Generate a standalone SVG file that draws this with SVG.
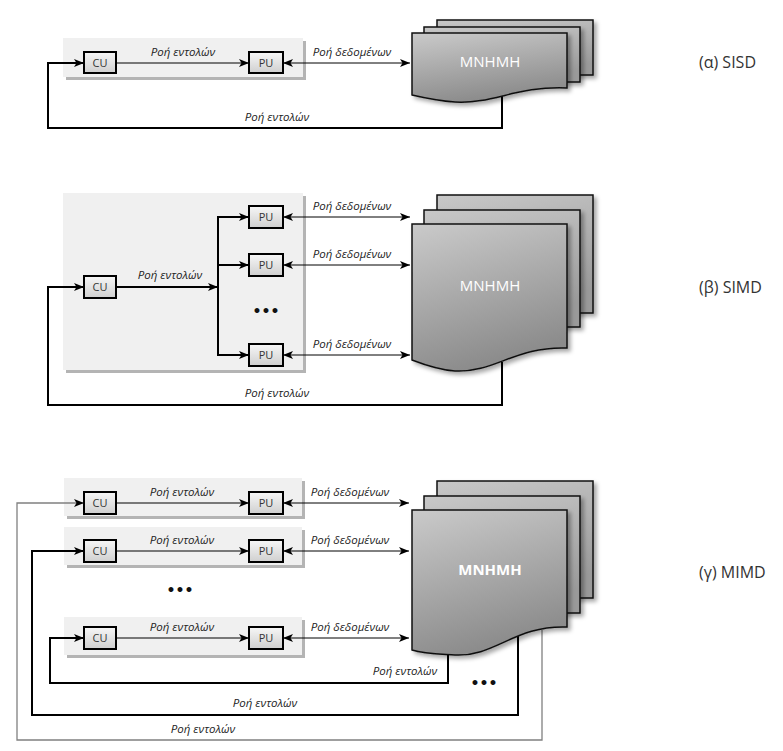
<svg xmlns="http://www.w3.org/2000/svg" width="783" height="751" viewBox="0 0 783 751">
<defs>
  <linearGradient id="boxg" x1="0" y1="0" x2="0" y2="1">
    <stop offset="0" stop-color="#f7f7f7"/>
    <stop offset="1" stop-color="#cfcfcf"/>
  </linearGradient>
  <linearGradient id="memg" x1="0" y1="0" x2="0.3" y2="1">
    <stop offset="0" stop-color="#cacaca"/>
    <stop offset="1" stop-color="#8c8c8c"/>
  </linearGradient>
  <linearGradient id="backg" x1="0" y1="0" x2="0.3" y2="1">
    <stop offset="0" stop-color="#c8c8c8"/>
    <stop offset="1" stop-color="#9a9a9a"/>
  </linearGradient>
  <filter id="sh" x="-10%" y="-10%" width="130%" height="130%">
    <feDropShadow dx="3" dy="3" stdDeviation="2" flood-color="#000" flood-opacity="0.35"/>
  </filter>
  <marker id="ah" viewBox="0 0 10 8" refX="10" refY="4" markerWidth="10" markerHeight="8" markerUnits="userSpaceOnUse" orient="auto-start-reverse">
    <path d="M0,0 L10,4 L0,8 L2.5,4 Z" fill="#000"/>
  </marker>
</defs>
<style>
  .panel{fill:#f0f0f0}
  .pshadow{fill:#b4b4b4}
  .box{fill:url(#boxg);stroke:#000;stroke-width:2}
  .btxt{font-family:"Open Sans","DejaVu Sans",sans-serif;font-size:11px;fill:#333;text-anchor:middle}
  .lbl{font-family:"Open Sans","DejaVu Sans",sans-serif;font-size:11.5px;font-style:italic;fill:#222;text-anchor:middle}
  .cap{font-family:"Open Sans","DejaVu Sans",sans-serif;font-size:16px;fill:#333}
  .dots{font-family:"DejaVu Sans",sans-serif;font-size:14px;font-weight:bold;fill:#111;text-anchor:middle}
  .thin{fill:none;stroke:#000;stroke-width:1}
  .thick{fill:none;stroke:#000;stroke-width:2}
  .gray{fill:none;stroke:#808080;stroke-width:1.3}
  .sheet{fill:url(#memg);stroke:#111;stroke-width:1.5;filter:url(#sh)}
  .back{fill:url(#backg);stroke:#111;stroke-width:1.5;filter:url(#sh)}
  .mtxt{font-family:"Open Sans","DejaVu Sans",sans-serif;font-size:15px;fill:#fff;text-anchor:middle}
</style>

<!-- panels (background) -->
<g id="panel-a">
  <rect class="pshadow" x="66" y="41" width="240" height="39"/>
  <rect class="panel" x="63" y="38" width="240" height="39"/>
</g>
<g id="panel-b">
  <rect class="pshadow" x="66" y="196" width="240" height="177"/>
  <rect class="panel" x="63" y="193" width="240" height="177"/>
</g>
<g id="panel-c1">
  <rect class="pshadow" x="67" y="481" width="238" height="38"/>
  <rect class="panel" x="64" y="478" width="238" height="38"/>
</g>
<g id="panel-c2">
  <rect class="pshadow" x="67" y="530" width="238" height="38"/>
  <rect class="panel" x="64" y="527" width="238" height="38"/>
</g>
<g id="panel-c3">
  <rect class="pshadow" x="67" y="620" width="238" height="38"/>
  <rect class="panel" x="64" y="617" width="238" height="38"/>
</g>

<g id="connectors">
  <!-- (a) -->
  <path class="thin" d="M116,63 H249" marker-end="url(#ah)"/>
  <path class="thin" d="M283,63 H410" marker-start="url(#ah)" marker-end="url(#ah)"/>
  <path class="thick" d="M502,90 V128 H48 V63 H84" marker-end="url(#ah)"/>
  <!-- (b) -->
  <path class="thick" d="M116,287 H218" marker-end="url(#ah)"/>
  <path class="thick" d="M218,216 V356"/>
  <path class="thick" d="M217,217 H249" marker-end="url(#ah)"/>
  <path class="thick" d="M217,265 H249" marker-end="url(#ah)"/>
  <path class="thick" d="M217,355 H249" marker-end="url(#ah)"/>
  <path class="thin" d="M283,217 H410" marker-start="url(#ah)" marker-end="url(#ah)"/>
  <path class="thin" d="M283,265 H410" marker-start="url(#ah)" marker-end="url(#ah)"/>
  <path class="thin" d="M283,355 H410" marker-start="url(#ah)" marker-end="url(#ah)"/>
  <path class="thick" d="M502,362 V405 H48 V287 H84" marker-end="url(#ah)"/>
  <!-- (c) -->
  <path class="thin" d="M116,503 H249" marker-end="url(#ah)"/>
  <path class="thin" d="M116,551 H249" marker-end="url(#ah)"/>
  <path class="thin" d="M116,638 H249" marker-end="url(#ah)"/>
  <path class="thin" d="M283,503 H409" marker-start="url(#ah)" marker-end="url(#ah)"/>
  <path class="thin" d="M283,551 H409" marker-start="url(#ah)" marker-end="url(#ah)"/>
  <path class="thin" d="M283,638 H409" marker-start="url(#ah)" marker-end="url(#ah)"/>
  <path class="thick" d="M448,650 V683 H50 V638 H84" marker-end="url(#ah)"/>
  <path class="thick" d="M518,636 V715 H32 V551 H84" marker-end="url(#ah)"/>
  <path class="gray" d="M542,630 V740 H17 V503 H84" marker-end="url(#ah)"/>
</g>

<!-- ========== (a) SISD ========== -->
<g id="cu-a"><rect class="box" x="84" y="52" width="32" height="21"/><text class="btxt" x="100" y="67">CU</text></g>
<g id="pu-a"><rect class="box" x="249" y="52" width="34" height="21"/><text class="btxt" x="266" y="67">PU</text></g>
<g id="labels-a">
  <text class="lbl" x="183" y="56">Ροή εντολών</text>
  <text class="lbl" x="352" y="56">Ροή δεδομένων</text>
  <text class="lbl" x="277" y="121">Ροή εντολών</text>
</g>
<g id="mem-a">
  <rect class="back" x="437" y="20" width="156" height="55"/>
  <rect class="back" x="424" y="27" width="156" height="55"/>
  <path class="sheet" d="M412,33 H567 V88 C515,86 495,104 455,102 C440,101 425,98 412,95 Z"/>
  <text class="mtxt" x="490" y="67">MNHMH</text>
</g>
<text id="cap-a" class="cap" x="699" y="68">(α) SISD</text>

<!-- ========== (b) SIMD ========== -->
<g id="cu-b"><rect class="box" x="84" y="276" width="32" height="22"/><text class="btxt" x="100" y="291">CU</text></g>
<g id="pu-b1"><rect class="box" x="249" y="206" width="34" height="22"/><text class="btxt" x="266" y="221">PU</text></g>
<g id="pu-b2"><rect class="box" x="249" y="254" width="34" height="22"/><text class="btxt" x="266" y="269">PU</text></g>
<g id="pu-b3"><rect class="box" x="249" y="344" width="34" height="22"/><text class="btxt" x="266" y="359">PU</text></g>
<g id="labels-b">
  <text class="lbl" x="170" y="279">Ροή εντολών</text>
  <text class="dots" x="266" y="316">•••</text>
  <text class="lbl" x="352" y="210">Ροή δεδομένων</text>
  <text class="lbl" x="352" y="258">Ροή δεδομένων</text>
  <text class="lbl" x="352" y="348">Ροή δεδομένων</text>
  <text class="lbl" x="277" y="397">Ροή εντολών</text>
</g>
<g id="mem-b">
  <rect class="back" x="437" y="195" width="156" height="118"/>
  <rect class="back" x="424" y="210" width="156" height="117"/>
  <path class="sheet" d="M412,224 H567 V348 C515,346 495,373 455,371 C440,370 425,365 412,360 Z"/>
  <text class="mtxt" x="490" y="291">MNHMH</text>
</g>
<text id="cap-b" class="cap" x="699" y="293">(β) SIMD</text>

<!-- ========== (c) MIMD ========== -->
<g id="cu-c1"><rect class="box" x="84" y="492" width="32" height="22"/><text class="btxt" x="100" y="507">CU</text></g>
<g id="pu-c1"><rect class="box" x="249" y="492" width="34" height="22"/><text class="btxt" x="266" y="507">PU</text></g>
<g id="cu-c2"><rect class="box" x="84" y="540" width="32" height="22"/><text class="btxt" x="100" y="555">CU</text></g>
<g id="pu-c2"><rect class="box" x="249" y="540" width="34" height="22"/><text class="btxt" x="266" y="555">PU</text></g>
<g id="cu-c3"><rect class="box" x="84" y="627" width="32" height="22"/><text class="btxt" x="100" y="642">CU</text></g>
<g id="pu-c3"><rect class="box" x="249" y="627" width="34" height="22"/><text class="btxt" x="266" y="642">PU</text></g>
<g id="labels-c">
  <text class="lbl" x="182" y="496">Ροή εντολών</text>
  <text class="lbl" x="182" y="544">Ροή εντολών</text>
  <text class="lbl" x="182" y="631">Ροή εντολών</text>
  <text class="lbl" x="350" y="496">Ροή δεδομένων</text>
  <text class="lbl" x="350" y="544">Ροή δεδομένων</text>
  <text class="lbl" x="350" y="631">Ροή δεδομένων</text>
  <text class="dots" x="180" y="595">•••</text>
  <text class="lbl" x="405" y="675">Ροή εντολών</text>
  <text class="dots" x="484" y="688">•••</text>
  <text class="lbl" x="265" y="707">Ροή εντολών</text>
  <text class="lbl" x="203" y="733">Ροή εντολών</text>
</g>
<g id="mem-c">
  <rect class="back" x="437" y="481" width="156" height="117"/>
  <rect class="back" x="424" y="496" width="156" height="117"/>
  <path class="sheet" d="M412,510 H567 V627 C515,625 495,657 455,655 C440,654 425,654 412,650 Z"/>
  <text class="mtxt" x="490" y="575" font-weight="bold">MNHMH</text>
</g>
<text id="cap-c" class="cap" x="699" y="578">(γ) MIMD</text>
</svg>
